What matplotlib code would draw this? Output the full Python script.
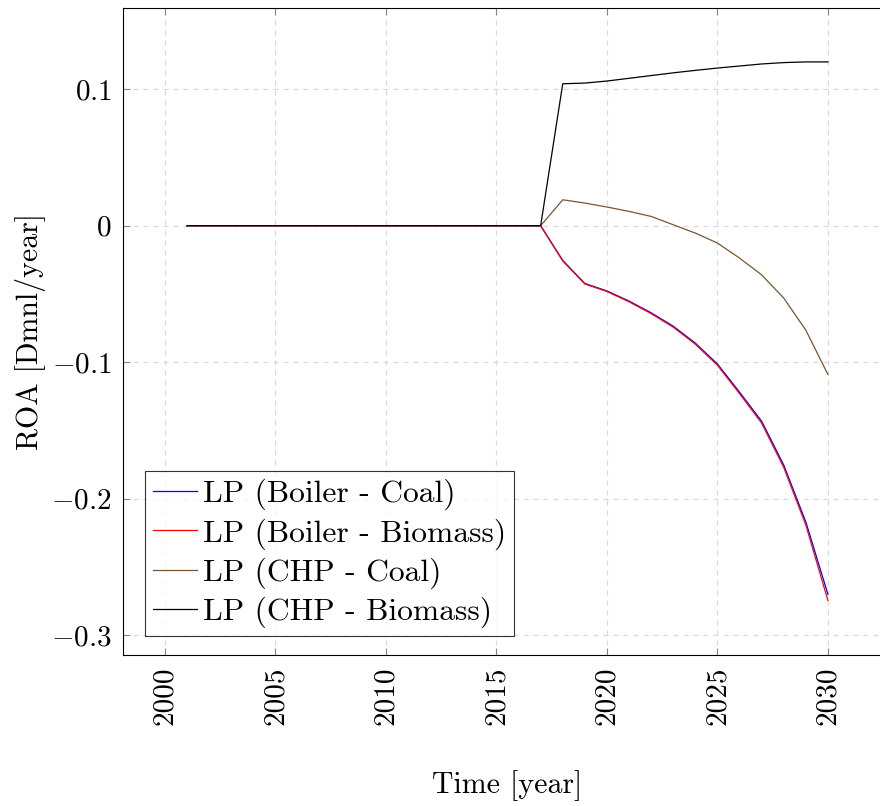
import matplotlib
matplotlib.use("Agg")
import matplotlib.pyplot as plt

plt.rcParams['font.family'] = ['cmr10', 'DejaVu Serif']
plt.rcParams['mathtext.fontset'] = 'cm'
plt.rcParams['axes.formatter.use_mathtext'] = True

years = list(range(2001, 2031))
zeros17 = [0.0] * 17
boiler_coal = zeros17 + [-0.0254, -0.0423, -0.0478, -0.0552, -0.0638, -0.0736, -0.0860,
                         -0.1013, -0.1219, -0.1432, -0.1753, -0.2170, -0.2700]
boiler_biomass = zeros17 + [-0.0258, -0.0427, -0.0482, -0.0557, -0.0644, -0.0743, -0.0868,
                            -0.1022, -0.1230, -0.1446, -0.1770, -0.2192, -0.2745]
chp_coal = zeros17 + [0.0190, 0.0166, 0.0137, 0.0105, 0.0068, 0.0007, -0.0054,
                      -0.0127, -0.0237, -0.0360, -0.0530, -0.0765, -0.1090]
chp_biomass = zeros17 + [0.1040, 0.1045, 0.1060, 0.1080, 0.1100, 0.1120, 0.1138,
                         0.1155, 0.1170, 0.1185, 0.1195, 0.1200, 0.1200]

series = [
    ("LP (Boiler - Coal)", boiler_coal, "blue"),
    ("LP (Boiler - Biomass)", boiler_biomass, "red"),
    ("LP (CHP - Coal)", chp_coal, "#7a5530"),
    ("LP (CHP - Biomass)", chp_biomass, "black"),
]

xticks = [2000, 2005, 2010, 2015, 2020, 2025, 2030]
yticks = [-0.3, -0.2, -0.1, 0.0, 0.1]
ytick_labels = [r'$-0.3$', r'$-0.2$', r'$-0.1$', r'$0$', r'$0.1$']

fig = plt.figure(figsize=(8.8, 8.06), dpi=100)
W, H = 880, 806
left, right, top, bottom = 123, 892, 8, 655
ax = fig.add_axes([left / W, 1 - bottom / H, (right - left) / W, (bottom - top) / H])

for label, vals, col in series:
    ax.plot(years, vals, color=col, lw=0.9, label=label)

ax.set_xlim(1998.1, 2032.9)
ax.set_ylim(-0.3145, 0.1595)
ax.set_xticks(xticks)
ax.set_xticklabels([str(t) for t in xticks], rotation=90, fontsize=21)
ax.set_yticks(yticks)
ax.set_yticklabels(ytick_labels, fontsize=21)

ax.grid(True, color='#d9d9d9', linestyle=(0, (4, 4)), linewidth=0.9)
ax.set_axisbelow(True)
ax.tick_params(direction='in', length=5, width=0.8, color='#888888',
               top=True, right=True, pad=8)
for s in ax.spines.values():
    s.set_linewidth(0.8)
    s.set_color('black')

ax.set_xlabel("Time [year]", fontsize=21.5, labelpad=33)
ax.set_ylabel("ROA [Dmnl/year]", fontsize=21.5, labelpad=4)

leg = ax.legend(loc='lower left', bbox_to_anchor=(0.0286, 0.0294), fontsize=22.7,
                frameon=True, fancybox=False, handlelength=1.4, handletextpad=0.2,
                borderpad=0.24, labelspacing=0.25, borderaxespad=0)
leg.get_frame().set_edgecolor('black')
leg.get_frame().set_linewidth(0.8)

fig.savefig("out.png", dpi=100)
